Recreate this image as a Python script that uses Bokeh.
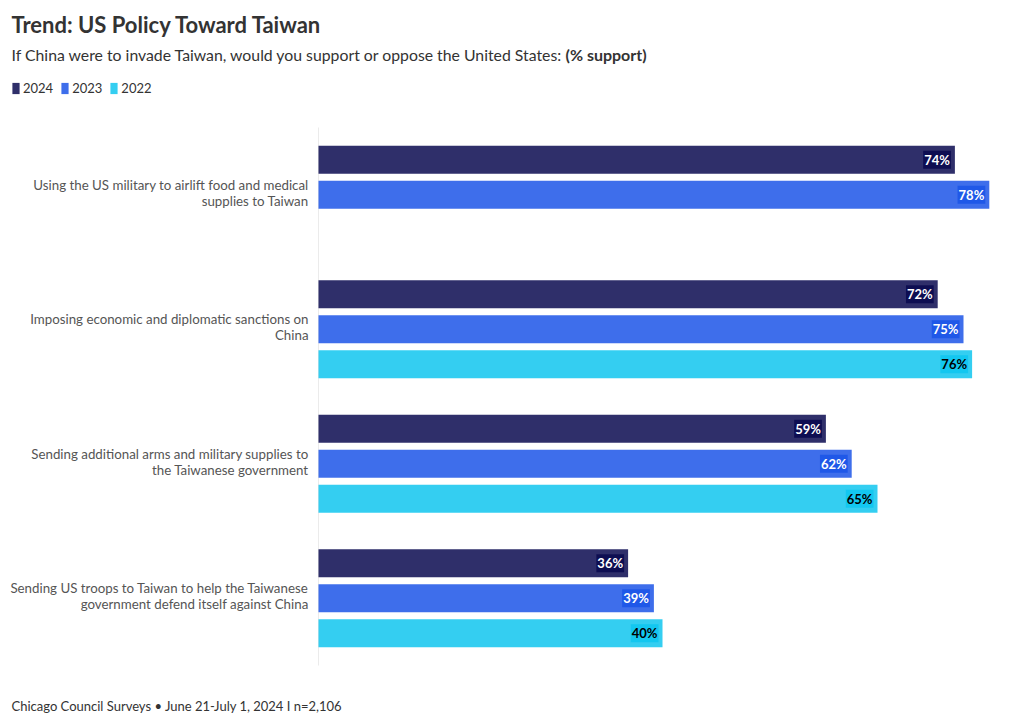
from bokeh.plotting import figure
from bokeh.models import ColumnDataSource, Range1d, Label, Legend, LegendItem
from bokeh.embed import file_html
from bokeh.resources import INLINE
from bokeh.core.properties import value

categories = [
    "Using the US military to airlift food and medical\nsupplies to Taiwan",
    "Imposing economic and diplomatic sanctions on\nChina",
    "Sending additional arms and military supplies to\nthe Taiwanese government",
    "Sending US troops to Taiwan to help the Taiwanese\ngovernment defend itself against China",
]
years = ["2024", "2023", "2022"]
v2024 = [74, 72, 59, 36]
v2023 = [78, 75, 62, 39]
v2022 = [None, 76, 65, 40]
series = [v2024, v2023, v2022]

colors = ["#0b0b50", "#1c55e8", "#10c6ef"]
text_colors = ["#ffffff", "#ffffff", "#000000"]

FONT = "Lato"
W, H = 1020, 724
# plot-area geometry (page pixels)
X0, XPX = 318, 8.6          # pixel of 0 %, pixels per 1 %
YT, YB = 127, 665            # top / bottom of the category band
n = len(categories)
GP = (YB - YT) / n           # pixels per category

x_range = Range1d(-X0 / XPX, (W - X0) / XPX)
y_range = Range1d((H - YT) / GP - 0.5, -YT / GP - 0.5)

p = figure(width=W, height=H, output_backend="svg", toolbar_location=None,
           x_range=x_range, y_range=y_range,
           x_axis_location=None, y_axis_location=None,
           min_border=0, outline_line_color=None)
p.xgrid.visible = False
p.ygrid.visible = False

# vertical baseline
p.segment(x0=[0], y0=[-0.5], x1=[0], y1=[n - 0.5], line_color="#ebebeb", line_width=1)

# category labels
p.text(x=[-10 / XPX] * n, y=list(range(n)), text=categories, y_offset=-2,
       text_align="right", text_baseline="middle", text_line_height=1.0,
       text_font=value(FONT), text_font_size="13.3px", text_color="#555555")

offsets = [-0.26, 0.0, 0.26]
renderers = []
for k, (yr, vals) in enumerate(zip(years, series)):
    ys, xs, txt = [], [], []
    for i, v in enumerate(vals):
        if v is None:
            continue
        ys.append(i + offsets[k])
        xs.append(v)
        txt.append(f"{v}%")
    src = ColumnDataSource(dict(y=ys, v=xs, t=txt))
    r = p.hbar(y="y", left=0, right="v", height=0.208, source=src,
               fill_color=colors[k], fill_alpha=0.85, line_color=None)
    renderers.append(r)
    p.text(x="v", y="y", text="t", source=src, x_offset=-4,
           text_align="right", text_baseline="middle",
           text_font=value(FONT), text_font_size="13px", text_font_style="bold",
           text_color=text_colors[k], background_fill_color=colors[k],
           background_fill_alpha=0.9, padding=1)

legend = Legend(items=[LegendItem(label=yr, renderers=[r]) for yr, r in zip(years, renderers)],
                orientation="horizontal", location=(11, H - 96),
                glyph_width=9, glyph_height=14, label_height=14,
                label_text_font=FONT, label_text_font_size="13px", label_text_color="#333333",
                label_standoff=3, spacing=7, padding=0, margin=0,
                border_line_color=None, background_fill_alpha=0)
p.add_layout(legend, "center")

def lab(x, y, text, size, bold=False):
    p.add_layout(Label(x=x, y=H - y, x_units="screen", y_units="screen",
                       text=text, text_font=FONT, text_font_size=size,
                       text_font_style="bold" if bold else "normal",
                       text_color="#333333", text_baseline="middle"))

lab(11, 24, "Trend: US Policy Toward Taiwan", "22px", True)
lab(11, 54, "If China were to invade Taiwan, would you support or oppose the United States:", "15.8px")
lab(565, 54, "(% support)", "16px", True)
lab(11, 705, "Chicago Council Surveys \u2022 June 21-July 1, 2024 I n=2,106", "13px")

open("out.html", "w").write(file_html(p, INLINE))
